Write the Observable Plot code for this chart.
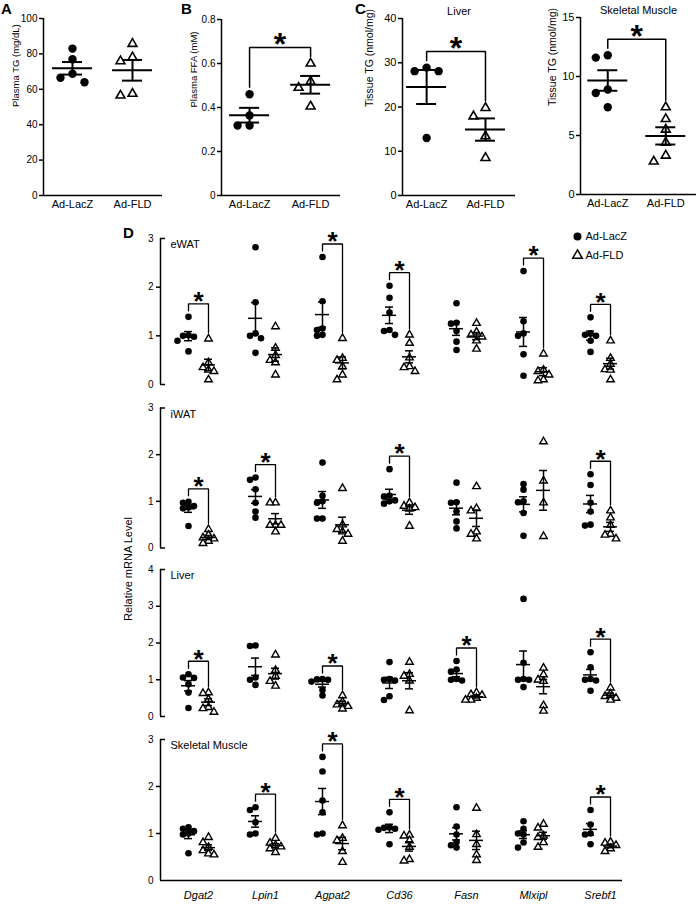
<!DOCTYPE html>
<html><head><meta charset="utf-8">
<script src="https://cdn.jsdelivr.net/npm/d3@7"></script>
<script src="https://cdn.jsdelivr.net/npm/@observablehq/plot@0.6"></script>
<style>
body{margin:0;background:#fff;}
#fig{position:relative;width:696px;height:905px;overflow:hidden;font-family:"Liberation Sans",Arial,Helvetica,sans-serif;color:#000;}
.letter{position:absolute;font-weight:bold;font-size:15px;line-height:15px;}
.ylab{position:absolute;white-space:nowrap;font-size:11px;transform:translate(-50%,-50%) rotate(-90deg);}
</style></head><body><div id="fig"></div>
<script>
// ---------------- data ----------------
const groups = ["Ad-LacZ", "Ad-FLD"];

// Panel A: plasma TG (mg/dL)
const plasmaTG_LacZ = [83, 77, 68.8, 64, 66.5];
const plasmaTG_FLD = [85.7, 78.1, 75.9, 56.5, 57.5];
// Panel B: plasma FFA (mM)
const plasmaFFA_LacZ = [0.46, 0.364, 0.318, 0.318];
const plasmaFFA_FLD = [0.6, 0.518, 0.49, 0.405];
// Panel C: tissue TG (nmol/mg)
const liverTG_LacZ = [28.1, 28.1, 28.9, 13.0];
const liverTG_FLD = [17.9, 19.8, 13.4, 8.5];
const muscleTG_LacZ = [11.6, 11.8, 8.9, 8.6, 7.4];
const muscleTG_FLD = [7.4, 6.4, 5.5, 4.4, 2.8, 3.3];

// Panel D: relative mRNA level
const genes = ["Dgat2", "Lpin1", "Agpat2", "Cd36", "Fasn", "Mlxipl", "Srebf1"];
const tissues = ["eWAT", "iWAT", "Liver", "Skeletal Muscle"];

const eWAT_LacZ = [
  [1.39, 1.01, 1.0, 0.98, 0.9, 0.68],
  [2.82, 1.69, 1.05, 1.0, 0.95, 0.65],
  [2.62, 1.71, 1.15, 1.12, 1.02, 1.0],
  [2.03, 1.78, 1.48, 1.12, 1.1, 1.02],
  [1.67, 1.27, 1.25, 1.1, 0.88, 0.71],
  [2.33, 1.3, 1.05, 1.0, 0.62, 0.18],
  [1.38, 1.05, 1.02, 1.0, 0.9, 0.67]
];
const eWAT_FLD = [
  [0.94, 0.45, 0.35, 0.3, 0.27, 0.1],
  [1.19, 0.75, 0.6, 0.5, 0.45, 0.2],
  [0.95, 0.54, 0.5, 0.37, 0.2, 0.1],
  [1.02, 0.85, 0.55, 0.37, 0.35, 0.27],
  [1.26, 1.08, 1.02, 0.98, 0.9, 0.73],
  [0.63, 0.3, 0.27, 0.2, 0.1, 0.08],
  [0.9, 0.54, 0.42, 0.31, 0.3, 0.1]
];
const eWAT_sig = [true, false, true, true, false, true, true];

const iWAT_LacZ = [
  [0.99, 0.97, 0.9, 0.87, 0.85, 0.47],
  [1.51, 1.46, 1.26, 0.97, 0.78, 0.65],
  [1.83, 1.12, 1.0, 0.97, 0.63, 0.63],
  [1.69, 1.12, 1.1, 1.02, 1.0, 0.95],
  [1.4, 0.98, 0.97, 0.78, 0.57, 0.42],
  [1.37, 1.25, 1.0, 0.98, 0.75, 0.26],
  [1.58, 1.35, 0.97, 0.78, 0.5, 0.48]
];
const iWAT_FLD = [
  [0.4, 0.28, 0.22, 0.2, 0.15, 0.1],
  [0.97, 0.97, 0.49, 0.49, 0.49, 0.35],
  [1.28, 0.5, 0.4, 0.35, 0.3, 0.15],
  [0.97, 0.9, 0.87, 0.84, 0.47],
  [1.32, 0.85, 0.8, 0.35, 0.3, 0.2],
  [2.28, 1.44, 0.97, 0.25],
  [0.8, 0.65, 0.49, 0.3, 0.28, 0.2]
];
const iWAT_sig = [true, true, false, true, false, false, true];

const liver_LacZ = [
  [1.15, 1.06, 1.05, 0.88, 0.65, 0.23],
  [1.93, 1.92, 1.06, 1.0, 0.86],
  [1.02, 1.01, 1.0, 0.95, 0.72, 0.57],
  [1.48, 1.02, 1.0, 0.98, 0.55, 0.45],
  [1.51, 1.28, 1.22, 1.02, 1.0, 0.98],
  [3.2, 1.46, 1.02, 1.0, 1.0, 0.8],
  [1.75, 1.34, 1.02, 1.0, 0.98, 0.7]
];
const liver_FLD = [
  [0.65, 0.63, 0.47, 0.25, 0.22, 0.12],
  [1.68, 1.26, 1.1, 0.96, 0.83],
  [0.57, 0.4, 0.32, 0.28, 0.21],
  [1.48, 1.15, 1.1, 0.97, 0.16],
  [0.65, 0.6, 0.58, 0.5, 0.45, 0.45],
  [1.32, 1.14, 1.0, 0.96, 0.3, 0.15],
  [0.78, 0.62, 0.55, 0.5, 0.45]
];
const liver_sig = [true, false, true, false, true, false, true];

const muscle_LacZ = [
  [1.13, 1.1, 1.05, 1.0, 0.98, 0.58],
  [1.56, 1.5, 1.24, 1.0, 0.98],
  [2.63, 2.32, 1.7, 1.45, 1.0, 0.98],
  [1.45, 1.13, 1.12, 1.1, 1.08, 0.77],
  [1.56, 1.15, 0.98, 0.82, 0.75, 0.7],
  [1.26, 1.1, 1.0, 0.98, 0.81, 0.7],
  [1.5, 1.19, 1.0, 0.98, 0.77]
];
const muscle_FLD = [
  [0.92, 0.81, 0.71, 0.64, 0.57, 0.55],
  [0.9, 0.8, 0.75, 0.72, 0.68, 0.6],
  [1.17, 0.9, 0.85, 0.62, 0.39],
  [0.97, 0.95, 0.85, 0.71, 0.45, 0.42],
  [1.54, 0.98, 0.77, 0.55, 0.43],
  [1.2, 1.12, 0.95, 0.92, 0.81, 0.71],
  [0.82, 0.8, 0.75, 0.68, 0.62]
];
const muscle_sig = [false, true, true, true, false, false, true];

// ---------------- helpers ----------------
const FONT = '"Liberation Sans", Arial, Helvetica, sans-serif';
const STYLE = {background: "transparent", overflow: "visible", fontFamily: FONT, color: "black"};
const fig = document.getElementById("fig");
const fmtTick = d => (d === 0 ? "0" : String(d));

function place(el, left, top) {
  el.style.position = "absolute";
  el.style.left = left + "px";
  el.style.top = top + "px";
  fig.appendChild(el);
}
function htmlText(cls, txt, left, top) {
  const d = document.createElement("div");
  d.className = cls; d.textContent = txt;
  d.style.left = left + "px"; d.style.top = top + "px";
  fig.appendChild(d);
}

// simple deterministic beeswarm (pixel offsets)
function swarmOffsets(vals, ky, step, minDist) {
  const idx = vals.map((_, i) => i).sort((a, b) => vals[b] - vals[a]);
  const placed = [];
  const off = new Array(vals.length).fill(0);
  for (const i of idx) {
    const y = -vals[i] * ky;
    for (let k = 0; k < 60; k++) {
      const c = k === 0 ? 0 : (k % 2 ? -1 : 1) * Math.ceil(k / 2) * step;
      if (placed.every(p => (p.x - c) ** 2 + (p.y - y) ** 2 >= minDist * minDist)) {
        off[i] = c; placed.push({x: c, y}); break;
      }
    }
  }
  return off;
}

function pairMarks(pairs, o) {
  const pts = [], stats = [], brackets = [], stars = [];
  pairs.forEach((p, pi) => {
    const info = [];
    [[p.L, p.cL, 0], [p.F, p.cF, 1]].forEach(([vals, c, g]) => {
      const off = swarmOffsets(vals, o.ky, o.step, o.minDist);
      let mi = 0;
      vals.forEach((v, i) => { if (v > vals[mi]) mi = i; });
      vals.forEach((v, i) => pts.push({x: c + off[i] / o.kx, y: v, g}));
      const m = d3.mean(vals), sem = d3.deviation(vals) / Math.sqrt(vals.length);
      stats.push({c, m, lo: m - sem, hi: m + sem});
      info.push({x: c + off[mi] / o.kx, max: vals[mi]});
    });
    if (p.sig) {
      const [a, b] = info;
      const top = Math.max(a.max, b.max) + o.topGap / o.ky;
      brackets.push(
        {id: pi, x: a.x, y: a.max + o.legGap / o.ky},
        {id: pi, x: a.x, y: top},
        {id: pi, x: b.x, y: top},
        {id: pi, x: b.x, y: b.max + o.legGap / o.ky});
      stars.push({x: (a.x + b.x) / 2, y: top});
    }
  });
  const hw = w => w / 2 / o.kx;
  return [
    Plot.dot(pts.filter(d => d.g === 0), {x: "x", y: "y", r: o.r, fill: "black", stroke: "none"}),
    Plot.dot(pts.filter(d => d.g === 1), {x: "x", y: "y", r: o.triR, symbol: "triangle", fill: "white", stroke: "black", strokeWidth: o.triSW}),
    Plot.ruleY(stats, {y: "m", x1: d => d.c - hw(o.meanW), x2: d => d.c + hw(o.meanW), stroke: "black", strokeWidth: o.sw}),
    Plot.ruleY(stats, {y: "lo", x1: d => d.c - hw(o.capW), x2: d => d.c + hw(o.capW), stroke: "black", strokeWidth: o.sw}),
    Plot.ruleY(stats, {y: "hi", x1: d => d.c - hw(o.capW), x2: d => d.c + hw(o.capW), stroke: "black", strokeWidth: o.sw}),
    Plot.ruleX(stats, {x: "c", y1: "lo", y2: "hi", stroke: "black", strokeWidth: o.sw}),
    Plot.line(brackets, {x: "x", y: "y", z: "id", stroke: "black", strokeWidth: o.bw, strokeLinejoin: "miter"}),
    Plot.text(stars, {x: "x", y: "y", text: () => "*", fontSize: o.starSize, fontWeight: "bold", dy: o.starDy, fill: "black"})
  ];
}

// ---------------- panels A–C ----------------
function smallPanel(c) {
  const innerH = c.height - c.mT - c.mB;
  const innerW = c.width - c.mL - c.mR;
  const o = {
    ky: innerH / c.yMax, kx: innerW / (c.xDomain[1] - c.xDomain[0]),
    r: 4.2, triR: 3.3, triSW: 1.6, step: 12, minDist: 10,
    meanW: 40, capW: 20, sw: 2, bw: 1.5, legGap: 7, topGap: 16, starSize: 32, starDy: -3
  };
  const marks = [
    Plot.ruleX([c.xDomain[0]], {stroke: "black", strokeWidth: 1.5}),
    Plot.ruleY([0], {stroke: "black", strokeWidth: 1.5}),
    Plot.axisY({ticks: c.ticks, tickFormat: fmtTick, tickSize: 4, tickPadding: 2, fontSize: c.tickFont, strokeWidth: 1.5}),
    Plot.axisX({ticks: [0, 1], tickFormat: i => groups[i], tickSize: 0, tickPadding: 5, fontSize: 11}),
    ...pairMarks([{cL: 0, cF: 1, L: c.L, F: c.F, sig: c.sig}], o),
    Plot.text([c.ylabel], {frameAnchor: "left", rotate: -90, dx: c.ylabelDx, fontSize: c.labelFont, text: d => d})
  ];
  if (c.title) marks.push(Plot.text([c.title], {frameAnchor: "top", dy: -11, fontSize: 11, text: d => d}));
  const svg = Plot.plot({
    width: c.width, height: c.height,
    marginLeft: c.mL, marginRight: c.mR, marginTop: c.mT, marginBottom: c.mB,
    x: {domain: c.xDomain, label: null},
    y: {domain: [0, c.yMax], label: null},
    style: STYLE,
    marks
  });
  place(svg, c.left, 0);
}

smallPanel({left: 0, width: 170, height: 215, mL: 43, mR: 8, mT: 18, mB: 20, xDomain: [-0.483, 1.5],
  yMax: 100, ticks: [0, 20, 40, 60, 80, 100], tickFont: 10, L: plasmaTG_LacZ, F: plasmaTG_FLD, sig: false,
  ylabel: "Plasma TG (mg/dL)", ylabelDx: -28, labelFont: 9.5});
smallPanel({left: 180, width: 165, height: 215, mL: 41, mR: 5, mT: 19, mB: 20, xDomain: [-0.46, 1.49],
  yMax: 0.8, ticks: [0, 0.2, 0.4, 0.6, 0.8], tickFont: 10, L: plasmaFFA_LacZ, F: plasmaFFA_FLD, sig: true,
  ylabel: "Plasma FFA (mM)", ylabelDx: -28, labelFont: 9.5});
smallPanel({left: 360, width: 160, height: 215, mL: 42, mR: 5, mT: 18, mB: 20, xDomain: [-0.41, 1.51],
  yMax: 40, ticks: [0, 10, 20, 30, 40], tickFont: 11, L: liverTG_LacZ, F: liverTG_FLD, sig: true,
  ylabel: "Tissue TG (nmol/mg)", ylabelDx: -33, labelFont: 10.5, title: "Liver"});
smallPanel({left: 530, width: 166, height: 215, mL: 50, mR: 0, mT: 17, mB: 21, xDomain: [-0.47, 1.53],
  yMax: 15, ticks: [0, 5, 10, 15], tickFont: 11, L: muscleTG_LacZ, F: muscleTG_FLD, sig: true,
  ylabel: "Tissue TG (nmol/mg)", ylabelDx: -28, labelFont: 10.5, title: "Skeletal Muscle"});

// ---------------- panel D rows ----------------
function rowPlot(c) {
  const W = 696, mL = 160, mR = 74;
  const xDomain = [-0.567, 6.328];
  const kx = (W - mL - mR) / (xDomain[1] - xDomain[0]);
  const ky = (c.height - c.mT - c.mB) / c.yMax;
  const off = 10 / kx;
  const pairs = genes.map((g, i) => ({cL: i - off, cF: i + off, L: c.L[i], F: c.F[i], sig: c.sig[i]}));
  const o = {ky, kx, r: 3.3, triR: 2.8, triSW: 1.4, step: 5.5, minDist: 5.5,
    meanW: 14, capW: 8, sw: 1.5, bw: 1.3, legGap: 6, topGap: 13, starSize: 26, starDy: -2};
  const all = d3.range(0, c.yMax + 1);
  const interior = all.slice(1, -1);
  const marks = [
    Plot.ruleX([xDomain[0]], {stroke: "black", strokeWidth: 1.5}),
    Plot.axisY({ticks: interior, tickSize: 4, tickFormat: () => "", strokeWidth: 1.5}),
    Plot.axisY({ticks: all, tickSize: 0, tickPadding: 7, tickFormat: fmtTick, fontSize: 10}),
    Plot.ruleY(c.bottom ? [c.yMax] : [0, c.yMax], {x1: xDomain[0], x2: xDomain[0] + 5 / kx, stroke: "black", strokeWidth: 1.5}),
    Plot.text([c.tissue], {frameAnchor: "top-left", dx: 10, dy: 2, textAnchor: "start", fontSize: 11, text: d => d}),
    ...pairMarks(pairs, o)
  ];
  if (c.bottom) {
    marks.push(Plot.ruleY([0], {stroke: "black", strokeWidth: 1.5}));
    marks.push(Plot.text(genes, {x: (d, i) => i, frameAnchor: "bottom", dy: 18, fontStyle: "italic", fontSize: 11, text: d => d}));
  }
  const svg = Plot.plot({
    width: W, height: c.height,
    marginLeft: mL, marginRight: mR, marginTop: c.mT, marginBottom: c.mB,
    x: {domain: xDomain, label: null, axis: null},
    y: {domain: [0, c.yMax], label: null},
    style: STYLE,
    marks
  });
  place(svg, 0, c.top);
}

rowPlot({top: 215, height: 177, mT: 23, mB: 8, yMax: 3, L: eWAT_LacZ, F: eWAT_FLD, sig: eWAT_sig, tissue: tissues[0]});
rowPlot({top: 392, height: 164, mT: 15.5, mB: 8.5, yMax: 3, L: iWAT_LacZ, F: iWAT_FLD, sig: iWAT_sig, tissue: tissues[1]});
rowPlot({top: 556, height: 168, mT: 13, mB: 8, yMax: 4, L: liver_LacZ, F: liver_FLD, sig: liver_sig, tissue: tissues[2]});
rowPlot({top: 724, height: 181, mT: 15, mB: 25, yMax: 3, L: muscle_LacZ, F: muscle_FLD, sig: muscle_sig, tissue: tissues[3], bottom: true});

// legend
const legend = Plot.plot({
  width: 110, height: 40, marginLeft: 12, marginRight: 0, marginTop: 0, marginBottom: 0,
  x: {domain: [0, 1], axis: null},
  y: {type: "point", domain: groups, range: [10, 29], padding: 0, axis: null},
  style: STYLE,
  marks: [
    Plot.dot([groups[0]], {x: () => 0, y: d => d, r: 4, fill: "black"}),
    Plot.dot([groups[1]], {x: () => 0, y: d => d, r: 3.6, symbol: "triangle", fill: "white", stroke: "black", strokeWidth: 1.5}),
    Plot.text(groups, {x: () => 0, y: d => d, text: d => d, dx: 8, textAnchor: "start", fontSize: 11})
  ]
});
place(legend, 565, 226);

// panel letters and shared axis label
htmlText("letter", "A", 1, 1);
htmlText("letter", "B", 181, 1);
htmlText("letter", "C", 355, 1);
htmlText("letter", "D", 123, 225);
htmlText("ylab", "Relative mRNA Level", 128, 569);
</script></body></html>
